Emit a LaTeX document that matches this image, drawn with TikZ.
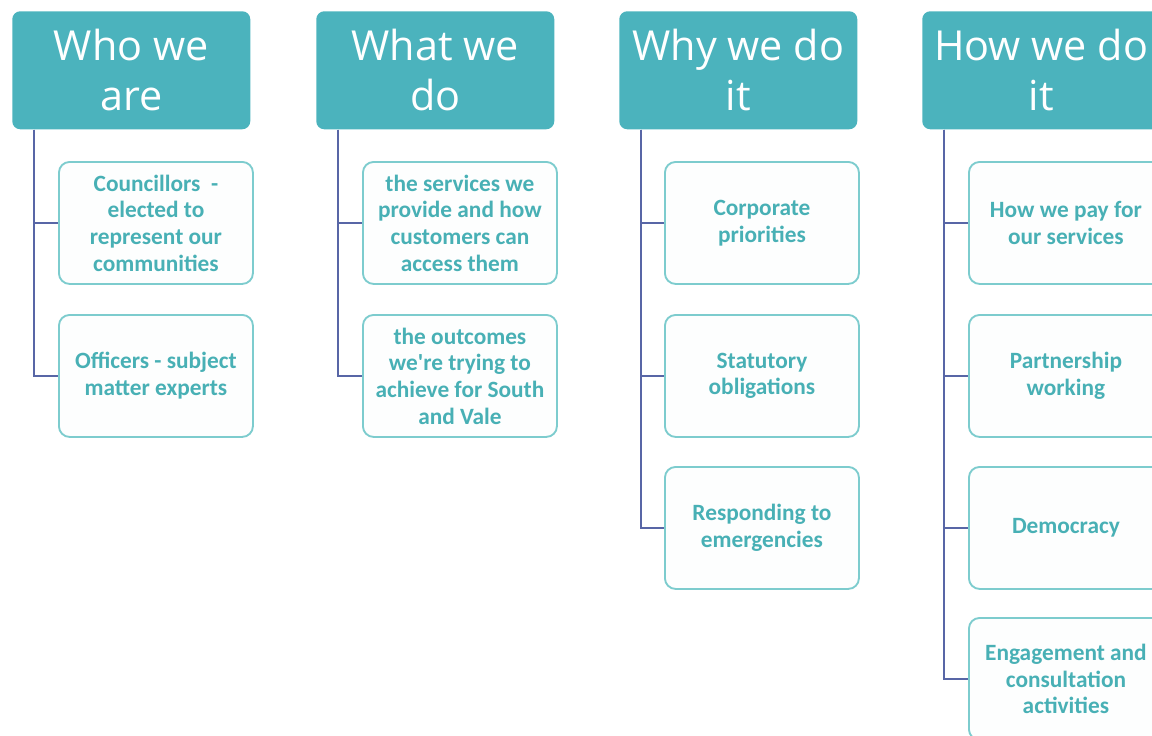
\documentclass[tikz,border=0pt]{standalone}
\usepackage{fontspec}
\newfontfamily\headfont{Open Sans}
\newfontfamily\itemfont{Carlito}

\definecolor{headteal}{RGB}{75,179,189}
\definecolor{itemteal}{RGB}{72,176,181}
\definecolor{itemedge}{RGB}{125,204,206}
\definecolor{itemfill}{RGB}{253,254,254}
\definecolor{linkblue}{RGB}{88,102,166}

\begin{document}
\begin{tikzpicture}[x=0.75pt,y=0.75pt,yscale=-1,xscale=1,
	head/.style={anchor=north west, fill=headteal, rounded corners=6pt, text=white, align=center, inner sep=0pt,
		minimum width=178.5pt, minimum height=88.5pt, font=\headfont\fontsize{31}{37.5}\selectfont},
	item/.style={anchor=north west, draw=itemedge, line width=1.4pt, fill=itemfill, rounded corners=8pt, text=itemteal,
		align=center, inner sep=0pt, minimum width=145.5pt, minimum height=91.5pt, font=\itemfont\bfseries\fontsize{17.5}{20}\selectfont},
	link/.style={draw=linkblue, line width=1.6pt}]

	% Fix the picture to the size of the reference and cut off what runs past it
	\useasboundingbox (0,0) rectangle (1152,735);
	\clip (0,0) rectangle (1152,735);

	% Headers of the four columns
	\node[head] (who) at (12,11) {Who we\\are};
	\node[head] (what) at (316,11) {What we\\do};
	\node[head] (why) at (619,11) {Why we do\\it};
	\node[head] (how) at (922,11) {How we do\\it};

	% Boxes below "Who we are"
	\node[item] (who1) at (58,161) {Councillors\ \ -\\elected to\\represent our\\communities};
	\node[item] (who2) at (58,314) {Officers - subject\\matter experts};

	% Boxes below "What we do"
	\node[item] (what1) at (362,161) {the services we\\provide and how\\customers can\\access them};
	\node[item] (what2) at (362,314) {the outcomes\\we're trying to\\achieve for South\\and Vale};

	% Boxes below "Why we do it"
	\node[item] (why1) at (664,161) {Corporate\\priorities};
	\node[item] (why2) at (664,314) {Statutory\\obligations};
	\node[item] (why3) at (664,466) {Responding to\\emergencies};

	% Boxes below "How we do it"
	\node[item] (how1) at (968,161) {How we pay for\\our services};
	\node[item] (how2) at (968,314) {Partnership\\working};
	\node[item] (how3) at (968,466) {Democracy};
	\node[item] (how4) at (968,617) {Engagement and\\consultation\\activities};

	% Connectors from each header down and across to its boxes
	\draw[link] ([xshift=16.5pt]who.south west) |- (who1.west);
	\draw[link] ([xshift=16.5pt]who.south west) |- (who2.west);
	\draw[link] ([xshift=16.5pt]what.south west) |- (what1.west);
	\draw[link] ([xshift=16.5pt]what.south west) |- (what2.west);
	\draw[link] ([xshift=16.5pt]why.south west) |- (why1.west);
	\draw[link] ([xshift=16.5pt]why.south west) |- (why2.west);
	\draw[link] ([xshift=16.5pt]why.south west) |- (why3.west);
	\draw[link] ([xshift=16.5pt]how.south west) |- (how1.west);
	\draw[link] ([xshift=16.5pt]how.south west) |- (how2.west);
	\draw[link] ([xshift=16.5pt]how.south west) |- (how3.west);
	\draw[link] ([xshift=16.5pt]how.south west) |- (how4.west);
\end{tikzpicture}
\end{document}
